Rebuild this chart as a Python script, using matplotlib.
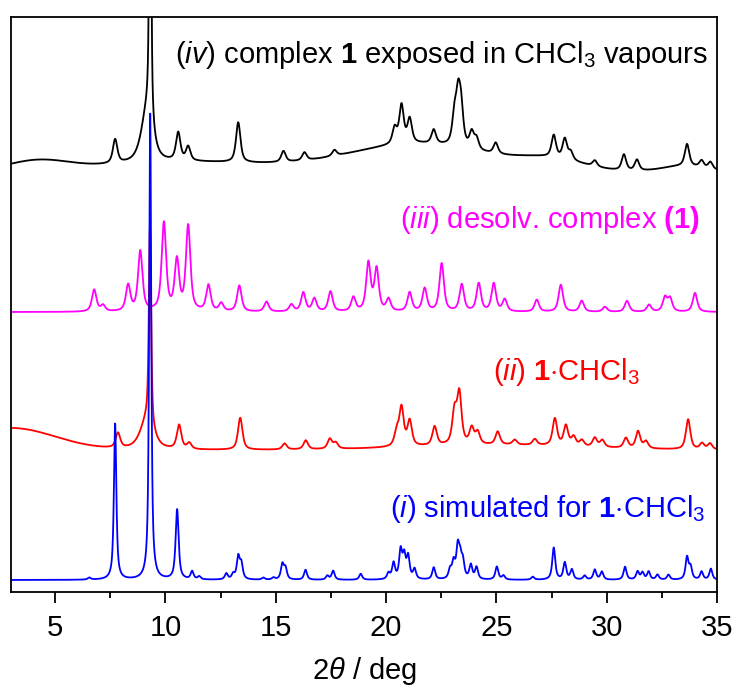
import numpy as np
import matplotlib
matplotlib.use("Agg")
import matplotlib.pyplot as plt
from matplotlib.ticker import MultipleLocator
from matplotlib import font_manager

plt.rcParams['font.family'] = ['Liberation Sans', 'DejaVu Sans']
plt.rcParams['mathtext.fontset'] = 'custom'
plt.rcParams['mathtext.rm'] = 'Liberation Sans'
plt.rcParams['mathtext.it'] = 'Liberation Sans:italic'
plt.rcParams['mathtext.bf'] = 'Liberation Sans:bold'

# narrow face for the axis numbers if it is there
names = set(f.name for f in font_manager.fontManager.ttflist)
tick_family = 'Liberation Sans Narrow' if 'Liberation Sans Narrow' in names else 'Liberation Sans'

# peak tables: 2theta (deg), height above baseline (px units)
# (i) simulated for 1.CHCl3
sim_pos = [6.55, 10.53, 11.21, 11.53, 12.76, 13.07, 13.30, 13.44, 14.44,
           14.90, 15.30, 15.44, 16.35, 17.34, 17.60, 18.85, 20.11, 20.34, 20.66, 20.82,
           21.00, 21.29, 22.16, 22.90, 23.06, 23.25, 23.36, 23.48, 23.84, 24.10, 25.02,
           25.32, 26.65, 27.60, 28.10, 28.42, 29.00, 29.46, 29.78, 30.83, 31.40, 31.62,
           31.90, 32.30, 32.80, 33.64, 33.80, 34.30, 34.72]
sim_h = [2, 70, 8, 3, 6, 5, 22, 15, 2,
         2, 15, 11, 10, 4, 9, 6, 6, 16, 28, 22,
         22, 10, 12, 9, 16, 30, 18, 16, 14, 12, 13,
         4, 3, 32, 17, 10, 4, 10, 8, 13, 8, 7,
         8, 5, 5, 22, 12, 8, 11]

# (ii) 1.CHCl3 experimental
ii_pos = [7.85, 10.62, 11.08, 13.39, 15.40, 16.36, 17.45, 17.72, 20.48,
          20.70, 21.07, 22.20, 23.10, 23.32, 23.88, 24.15, 25.06, 25.83, 26.74, 27.65,
          28.15, 28.50, 28.87, 29.46, 29.80, 30.87, 31.42, 31.78, 33.69, 34.32, 34.68]
ii_h = [15, 24, 6, 32, 6, 9, 10, 6, 14,
        38, 25, 19, 32, 50, 16, 12, 13, 5, 6, 27,
        20, 9, 6, 9, 7, 10, 17, 7, 30, 6, 6]

# (iii) desolvated complex (1)
iii_pos = [6.77, 7.17, 8.31, 8.86, 9.93, 10.52, 11.03, 11.95, 12.53, 13.35, 14.58,
           15.71, 16.25, 16.75, 17.48, 18.52, 19.20, 19.57, 20.11, 21.07, 21.75, 22.52,
           23.43, 24.20, 24.88, 25.38, 26.83, 27.92, 28.87, 29.92, 30.92, 31.92, 32.64,
           32.87, 34.00]
iii_h = [22, 6, 26, 60, 88, 50, 85, 26, 8, 26, 10,
         7, 19, 13, 20, 14, 48, 42, 12, 19, 23, 48,
         27, 28, 28, 12, 12, 27, 11, 5, 11, 7, 14,
         13, 19]

# (iv) complex 1 exposed in CHCl3 vapours
iv_pos = [7.72, 10.58, 11.03, 13.30, 15.35, 16.30, 17.66, 20.39, 20.70, 21.07,
          22.16, 23.10, 23.27, 23.40, 23.88, 24.10, 24.97, 27.60, 28.10, 28.37, 29.46,
          30.78, 31.37, 33.64, 34.30, 34.70]
iv_h = [24, 28, 14, 40, 11, 8, 6, 16, 38, 24,
        14, 28, 44, 34, 16, 11, 11, 22, 20, 8, 6,
        16, 11, 22, 7, 7]

# strong reflections with their own width (centre, height, fwhm)
sim_strong = [(7.72, 156, 0.13), (9.31, 466, 0.11)]
ii_strong = [(9.30, 200, 0.12), (9.15, 28, 0.7)]
iv_strong = [(9.31, 600, 0.08), (9.15, 48, 0.6)]

# broad background humps: centre, amplitude, sigma
ii_bg = [(3.0, 22, 2.0), (25.0, 5, 4.0)]
iv_bg = [(4.2, 10, 1.4), (11.0, 10, 4.0), (21.5, 28, 3.2), (27.5, 10, 1.5), (33.5, 6, 1.0)]

# baseline levels of each trace
base_i, base_ii, base_iii, base_iv = 12, 142, 280, 420

tt = np.linspace(3, 35, 6401)


def pvoigt(p, a, fwhm, eta):
    d = (tt - p) / (fwhm / 2)
    return a * (eta / (1 + d ** 2) + (1 - eta) * np.exp(-np.log(2) * d ** 2))


def pattern(pos, h, fwhm, base, bg=(), strong=(), eta=0.7):
    y = np.full_like(tt, float(base))
    for p, a in zip(pos, h):
        y += pvoigt(p, a, fwhm, eta)
    for p, a, w in strong:
        y += pvoigt(p, a, w, eta)
    for c, a, s in bg:
        y += a * np.exp(-(tt - c) ** 2 / (2 * s ** 2))
    return y


y_iv = pattern(iv_pos, iv_h, 0.24, base_iv, iv_bg, iv_strong)
y_iii = pattern(iii_pos, iii_h, 0.24, base_iii)
y_ii = pattern(ii_pos, ii_h, 0.24, base_ii, ii_bg, ii_strong)
y_i = pattern(sim_pos, sim_h, 0.16, base_i, strong=sim_strong, eta=0.8)

fig = plt.figure(figsize=(7.37, 6.86), dpi=100)
ax = fig.add_axes([0.0149, 0.137, 0.958, 0.838])

ax.plot(tt, y_iv, color='black', lw=1.3)
ax.plot(tt, y_iii, color='#ff00ff', lw=1.3)
ax.plot(tt, y_ii, color='#ff0000', lw=1.3)
ax.plot(tt, y_i, color='#0000ff', lw=1.3)

ax.set_xlim(3, 35)
ax.set_ylim(0, 575)
ax.set_yticks([])
ax.xaxis.set_major_locator(MultipleLocator(5))
ax.xaxis.set_minor_locator(MultipleLocator(2.5))
ax.tick_params(axis='x', which='major', direction='out', length=8, width=1.3,
               labelsize=21, pad=8)
ax.tick_params(axis='x', which='minor', direction='out', length=4, width=1.3)
for lab in ax.get_xticklabels():
    lab.set_family(tick_family)
for sp in ax.spines.values():
    sp.set_linewidth(1.3)

ax.set_xlabel(r'2$\theta$ / deg', fontsize=21, labelpad=9, family=tick_family)

fs = 21
ax.text(34.6, 529, r'($\mathit{iv}$) complex $\mathbf{1}$ exposed in CHCl$_3$ vapours',
        ha='right', va='baseline', fontsize=fs, color='black')
ax.text(34.23, 364, r'($\mathit{iii}$) desolv. complex $\mathbf{(1)}$',
        ha='right', va='baseline', fontsize=fs, color='#ff00ff')
ax.text(28.2, 212, r'($\mathit{ii}$) $\mathbf{1}$$\cdot$CHCl$_3$',
        ha='center', va='baseline', fontsize=fs, color='#ff0000')
ax.text(34.46, 75, r'($\mathit{i}$) simulated for $\mathbf{1}$$\cdot$CHCl$_3$',
        ha='right', va='baseline', fontsize=fs, color='#0000ff')

fig.savefig('out.png', dpi=100)
